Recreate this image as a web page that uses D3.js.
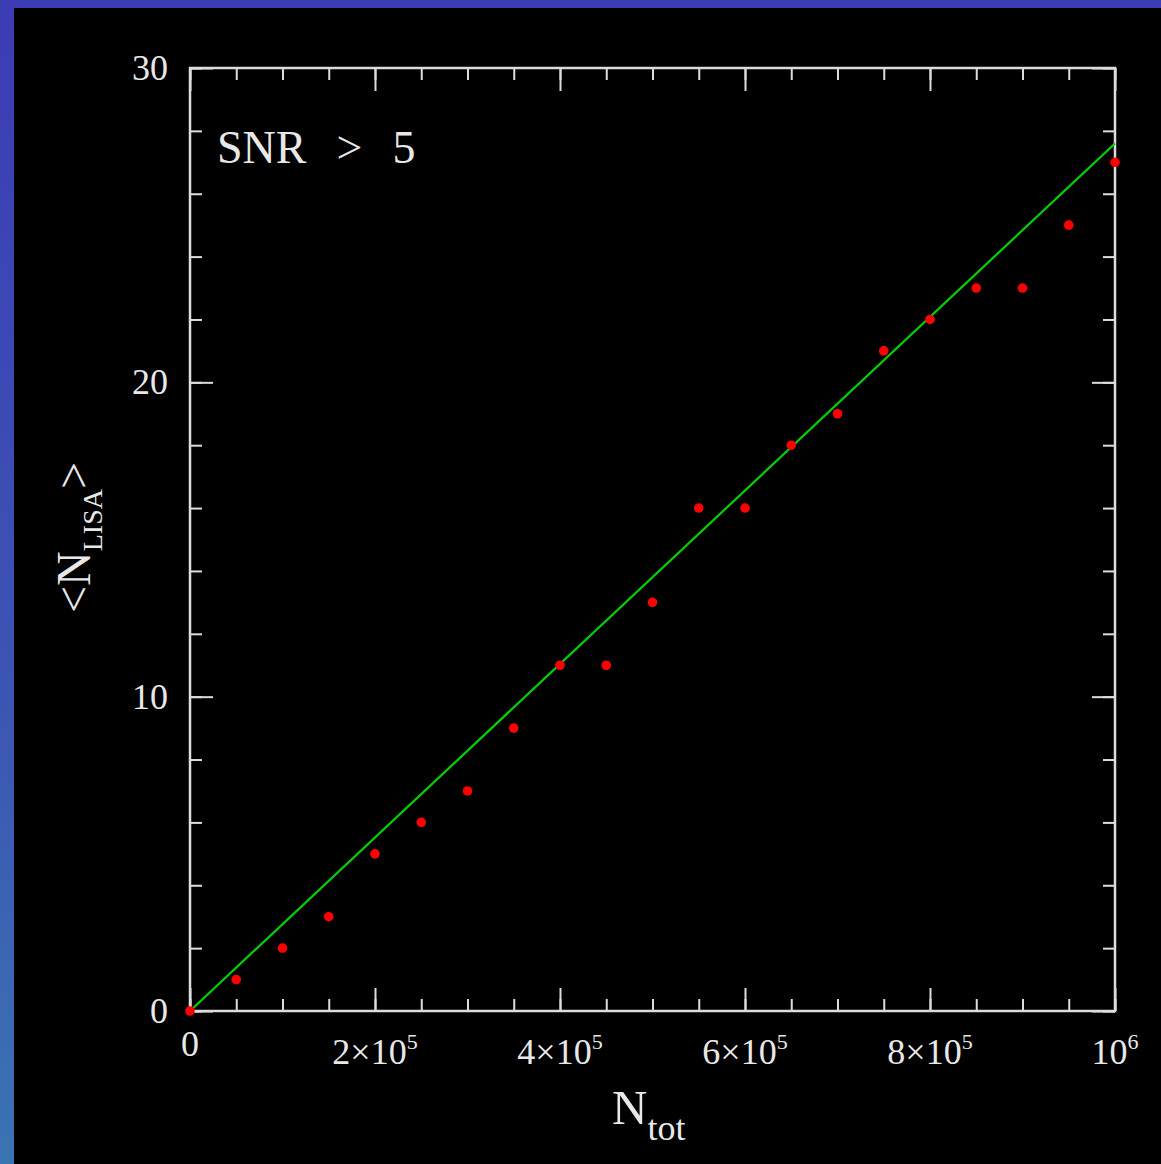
<!DOCTYPE html>
<meta charset="utf-8">
<script src="https://d3js.org/d3.v7.min.js"></script>
<style>
  body { margin: 0; background: #000; }
  text { font-family: "Liberation Serif", "DejaVu Serif", serif; fill: #e8e8e8; }
</style>
<div id="chart"></div>
<script>
  // data
  var nTot = [0, 50000, 100000, 150000, 200000, 250000, 300000, 350000, 400000, 450000, 500000,
    550000, 600000, 650000, 700000, 750000, 800000, 850000, 900000, 950000, 1000000];
  var nLisa = [0, 1, 2, 3, 5, 6, 7, 9, 11, 11, 13, 16, 16, 18, 19, 21, 22, 23, 23, 25, 27];
  // linear fit through origin
  var fitX = [0, 1000000];
  var fitY = [0, 27.6];
  var xMajor = [0, 200000, 400000, 600000, 800000, 1000000];
  var xMajorLabels = [["0", ""], ["2×10", "5"], ["4×10", "5"], ["6×10", "5"], ["8×10", "5"], ["10", "6"]];
  var yMajor = [0, 10, 20, 30];

  var W = 1161, H = 1164;
  var margin = { top: 68, right: 46, bottom: 153, left: 190 },
    width = W - margin.left - margin.right,
    height = H - margin.top - margin.bottom;

  var root = d3.select("#chart").append("svg")
    .attr("width", W)
    .attr("height", H);

  // blue slide border
  var defs = root.append("defs");
  var grad = defs.append("linearGradient").attr("id", "edge")
    .attr("x1", 0).attr("y1", 0).attr("x2", 0).attr("y2", 1);
  grad.append("stop").attr("offset", "0%").attr("stop-color", "#3c3cb4");
  grad.append("stop").attr("offset", "60%").attr("stop-color", "#3c55b4");
  grad.append("stop").attr("offset", "100%").attr("stop-color", "#3a74b2");
  root.append("rect").attr("x", 0).attr("y", 0).attr("width", W).attr("height", H).attr("fill", "#000");
  root.append("rect").attr("x", 0).attr("y", 0).attr("width", W).attr("height", 8).attr("fill", "#3c3cb4");
  root.append("rect").attr("x", 0).attr("y", 0).attr("width", 14).attr("height", H).attr("fill", "url(#edge)");

  var svg = root.append("g")
    .attr("transform", "translate(" + margin.left + "," + margin.top + ")");

  var x = d3.scaleLinear().domain([0, 1000000]).range([0, width]);
  var y = d3.scaleLinear().domain([0, 30]).range([height, 0]);

  var tickColor = "#dcdcdc";

  // minor + major ticks on all four sides, pointing inward
  function drawTicks(sel, axis) {
    sel.call(axis);
    sel.select(".domain").remove();
    sel.selectAll("line").attr("stroke", tickColor).attr("stroke-width", 2);
    sel.selectAll("text").remove();
  }
  var xMinor = d3.range(0, 1000001, 50000);
  var yMinor = d3.range(0, 31, 2);
  drawTicks(svg.append("g").attr("transform", "translate(0," + height + ")"),
    d3.axisBottom(x).tickValues(xMinor).tickSize(-12));
  drawTicks(svg.append("g").attr("transform", "translate(0," + height + ")"),
    d3.axisBottom(x).tickValues(xMajor).tickSize(-23));
  drawTicks(svg.append("g"), d3.axisTop(x).tickValues(xMinor).tickSize(-12));
  drawTicks(svg.append("g"), d3.axisTop(x).tickValues(xMajor).tickSize(-23));
  drawTicks(svg.append("g"), d3.axisLeft(y).tickValues(yMinor).tickSize(-12));
  drawTicks(svg.append("g"), d3.axisLeft(y).tickValues(yMajor).tickSize(-23));
  drawTicks(svg.append("g").attr("transform", "translate(" + width + ",0)"),
    d3.axisRight(y).tickValues(yMinor).tickSize(-12));
  drawTicks(svg.append("g").attr("transform", "translate(" + width + ",0)"),
    d3.axisRight(y).tickValues(yMajor).tickSize(-23));

  // frame
  svg.append("rect")
    .attr("width", width).attr("height", height)
    .attr("fill", "none").attr("stroke", tickColor).attr("stroke-width", 2.5);

  // y tick labels
  svg.selectAll(".ylab").data(yMajor).enter().append("text")
    .attr("class", "ylab")
    .attr("x", -22)
    .attr("y", function (d) { return y(d) + 12; })
    .attr("text-anchor", "end")
    .attr("font-size", 36)
    .text(function (d) { return d; });

  // x tick labels with superscript exponents (plain "0" sits a little higher)
  var xl = svg.selectAll(".xlab").data(xMajor).enter().append("text")
    .attr("class", "xlab")
    .attr("x", function (d) { return x(d); })
    .attr("y", function (d, i) { return height + (xMajorLabels[i][1] ? 53 : 45); })
    .attr("text-anchor", "middle")
    .attr("font-size", 36);
  xl.append("tspan").text(function (d, i) { return xMajorLabels[i][0]; });
  xl.append("tspan").attr("dy", -15).attr("font-size", 22)
    .text(function (d, i) { return xMajorLabels[i][1]; });

  // fit line
  svg.append("path")
    .datum(fitX.map(function (d, i) { return [d, fitY[i]]; }))
    .attr("fill", "none")
    .attr("stroke", "#00d200")
    .attr("stroke-width", 2.2)
    .attr("d", d3.line()
      .x(function (d) { return x(d[0]); })
      .y(function (d) { return y(d[1]); }));

  // points
  svg.selectAll(".pt").data(nTot).enter().append("circle")
    .attr("class", "pt")
    .attr("cx", function (d) { return x(d); })
    .attr("cy", function (d, i) { return y(nLisa[i]); })
    .attr("r", 4.8)
    .attr("fill", "#ff0000");

  // annotation
  var snr = svg.append("text")
    .attr("x", 27)
    .attr("y", 95)
    .attr("font-size", 46);
  snr.append("tspan").text("SNR");
  snr.append("tspan").attr("dx", 30).text(">");
  snr.append("tspan").attr("dx", 30).text("5");

  // x axis title
  var xt = root.append("text")
    .attr("x", 612)
    .attr("y", 1124)
    .attr("font-size", 49);
  xt.append("tspan").text("N");
  xt.append("tspan").attr("dy", 16).attr("font-size", 36).text("tot");

  // y axis title
  var yt = root.append("text")
    .attr("transform", "translate(90,613) rotate(-90)")
    .attr("font-size", 48);
  yt.append("tspan").text("<N");
  yt.append("tspan").attr("dy", 12).attr("font-size", 28).text("LISA");
  yt.append("tspan").attr("dy", -12).text(">");
</script>
